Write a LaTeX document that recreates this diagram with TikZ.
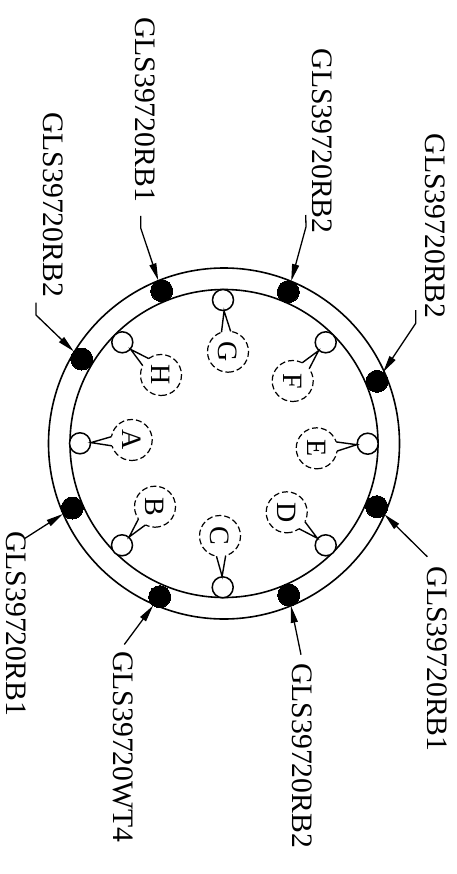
\documentclass[tikz,border=0pt]{standalone}
\usepackage{fontspec}
\setmainfont{Liberation Serif}
\usetikzlibrary{arrows.meta,calc}
\tikzset{
  x=1pt,y=-1pt,
  ring/.style={circle,draw,line width=1.6pt,inner sep=0pt},
  plug/.style={circle,draw=black,fill=black,minimum size=22pt,inner sep=0pt,line width=0pt},
  pin/.style={circle,draw,line width=1.5pt,fill=white,minimum size=21pt,inner sep=0pt},
  tagc/.style={circle,draw,dash pattern=on 6pt off 3pt,line width=1.2pt,fill=white,minimum size=41pt,inner sep=0pt,rotate=-90,font=\fontsize{28}{28}\selectfont},
  part/.style={rotate=-90,inner sep=0pt,anchor=base west,font=\fontsize{29.7}{30}\selectfont},
  lead/.style={draw,line width=1.3pt,-{Triangle[length=17pt,width=7pt]}},
  tail/.style={draw,line width=1.4pt}
}
\begin{document}
\begin{tikzpicture}
\useasboundingbox (0,0) rectangle (457,874);
\node[ring,minimum size=351pt] (outer) at (224,443.5) {};
\node[ring,minimum size=308pt] (inner) at (224,443.5) {};
% plugs
\node[plug] (p1) at (81.7,359) {};
\node[plug] (p2) at (161.7,290.7) {};
\node[plug] (p3) at (288.3,291.7) {};
\node[plug] (p4) at (377,381.3) {};
\node[plug] (p5) at (376.7,506.7) {};
\node[plug] (p6) at (288.7,595) {};
\node[plug] (p7) at (159.7,596.7) {};
\node[plug] (p8) at (72.3,508) {};
% pins
\node[pin] (pA) at (80,443.3) {};
\node[pin] (pB) at (122,545.3) {};
\node[pin] (pC) at (222.7,587.3) {};
\node[pin] (pD) at (325.7,545.3) {};
\node[pin] (pE) at (367.7,443.7) {};
\node[pin] (pF) at (325.7,342.3) {};
\node[pin] (pG) at (223,300) {};
\node[pin] (pH) at (122.3,342.3) {};
% tags
\node[tagc] (tA) at (131.7,440) {A};
\node[tagc] (tB) at (155,506.7) {B};
\node[tagc] (tC) at (220,536) {C};
\node[tagc] (tD) at (286.7,512.3) {D};
\node[tagc] (tE) at (316.7,448.3) {E};
\node[tagc] (tF) at (292.7,381) {F};
\node[tagc] (tG) at (228,351.7) {G};
\node[tagc] (tH) at (161,375) {H};
% balloon tails
\foreach \n in {A,B,C,D,E,F,G,H}{
  \coordinate (a\n) at ($(t\n.center)!20.5pt!13:(p\n.center)$);
  \coordinate (b\n) at ($(t\n.center)!20.5pt!-13:(p\n.center)$);
  \coordinate (c\n) at ($(p\n.center)!11pt!(t\n.center)$);
  \draw[white,line width=3.2pt] (a\n) -- (b\n);
  \draw[tail] (a\n) -- (c\n) -- (b\n);
}
% labels
\node[part] (l1) at (43.5,112) {GLS39720RB2};
\node[part] (l2) at (135,17) {GLS39720RB1};
\node[part] (l3) at (312,48.5) {GLS39720RB2};
\node[part] (l4) at (425,133.5) {GLS39720RB2};
\node[part] (l5) at (427,566.5) {GLS39720RB1};
\node[part] (l6) at (292,663) {GLS39720RB2};
\node[part] (l7) at (113.5,651) {GLS39720WT4};
\node[part] (l8) at (6,531) {GLS39720RB1};
% leaders
\coordinate (k1) at (36,315);
\coordinate (k2) at (140.7,228);
\coordinate (k3) at (306,226.7);
\coordinate (k4) at (415.7,323.3);
\coordinate (s1) at (36,302.7);
\coordinate (s2) at (140.7,216);
\coordinate (s3) at (305.7,215);
\coordinate (s4) at (415.7,310);
\coordinate (s5) at (427.3,556.7);
\coordinate (s6) at (301,654.7);
\coordinate (s7) at (124.3,644.5);
\coordinate (s8) at (25,538.3);
\path[lead] (s1) -- (k1) -- (p1);
\path[lead] (s2) -- (k2) -- (p2);
\path[lead] (s3) -- (k3) -- (p3);
\path[lead] (s4) -- (k4) -- (p4);
\path[lead] (s5) -- (p5);
\path[lead] (s6) -- (p6);
\path[lead] (s7) -- (p7);
\path[lead] (s8) -- (p8);
\end{tikzpicture}
\end{document}
